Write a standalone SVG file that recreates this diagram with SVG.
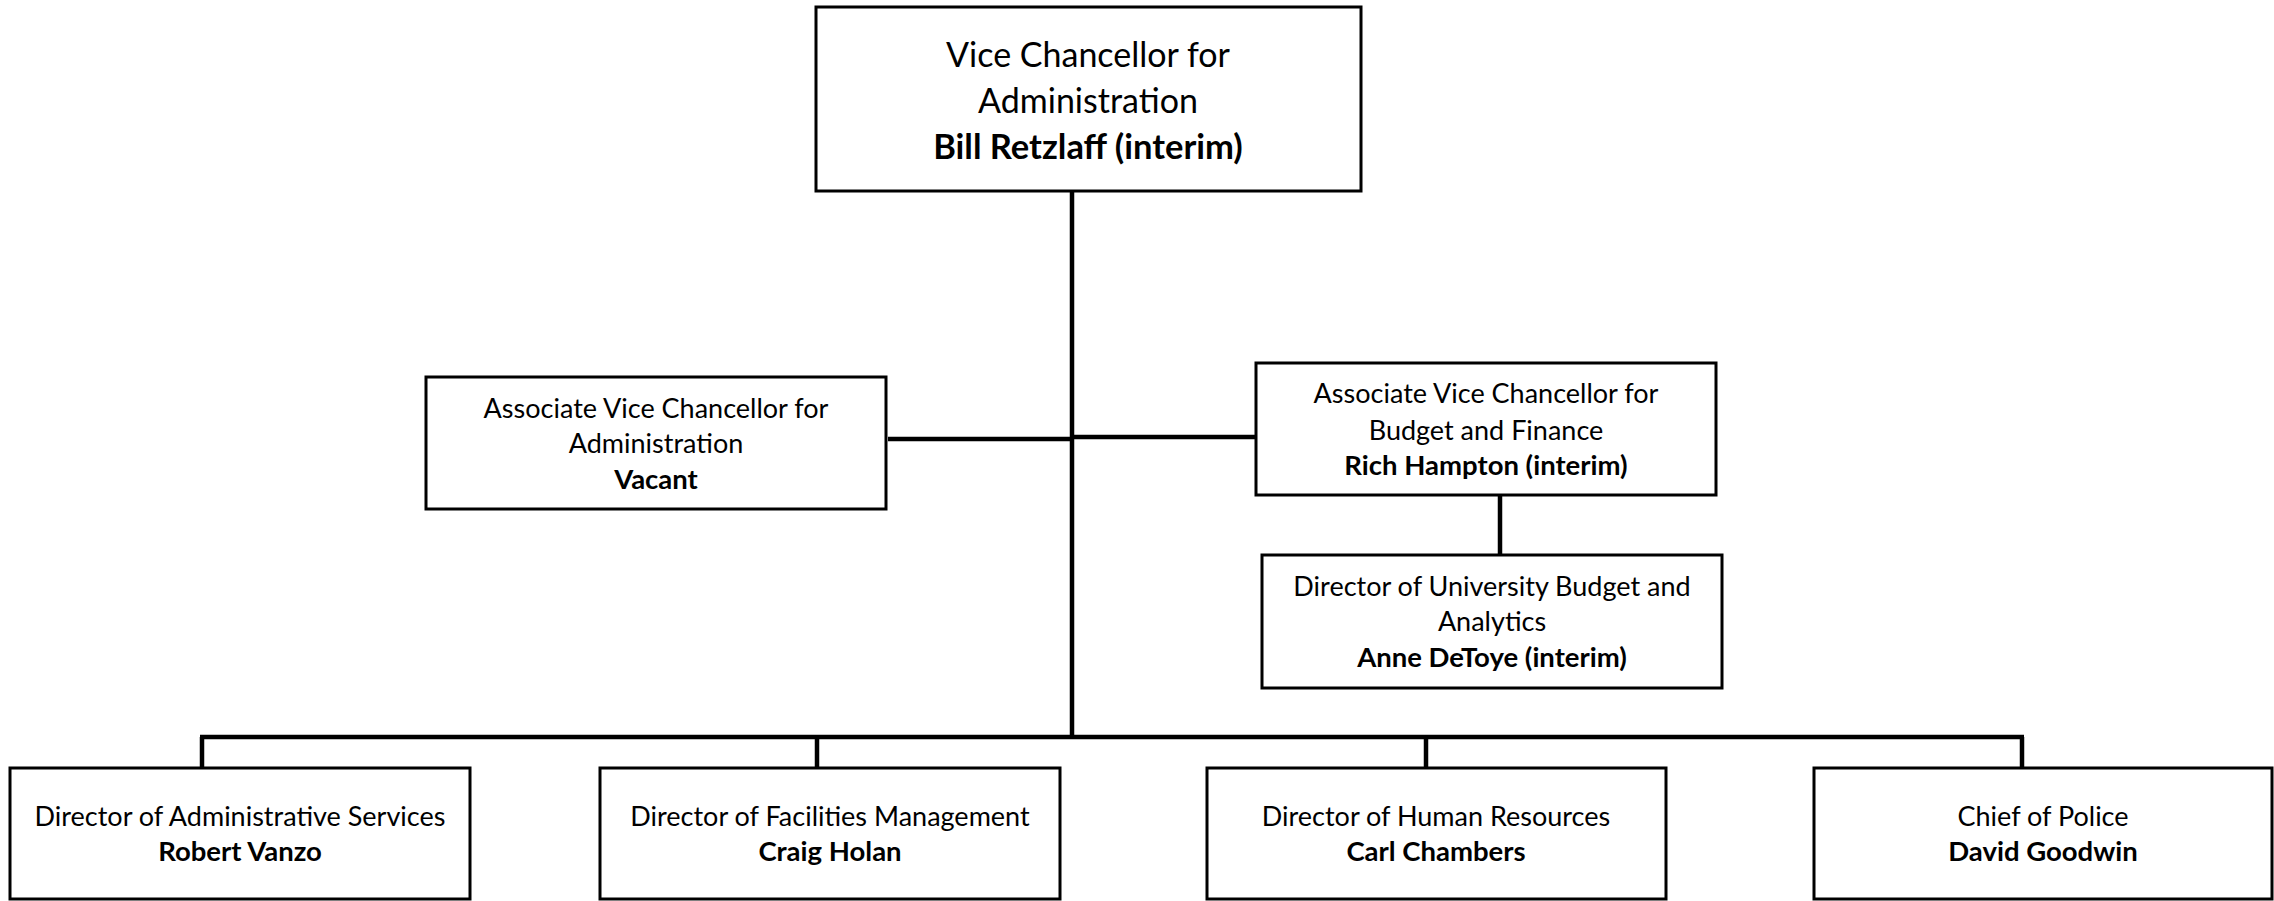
<svg xmlns="http://www.w3.org/2000/svg" width="2274" height="901" viewBox="0 0 2274 901">
<style>
.box{fill:#fff;stroke:#000;stroke-width:3}
.ln{stroke:#000;stroke-width:4.5;fill:none}
text{font-family:Lato,"Liberation Sans",sans-serif;fill:#000;text-anchor:middle}
.big{font-size:34px}
.sm{font-size:27px}
.b{font-weight:bold}
.sm.b{font-size:27.5px}
.big.b{font-size:34.5px}
</style>
<rect width="2274" height="901" fill="#fff"/>
<g id="connectors">
<line class="ln" x1="1072" y1="192" x2="1072" y2="737"/>
<line class="ln" x1="888" y1="439" x2="1072" y2="439"/>
<line class="ln" x1="1072" y1="437" x2="1256" y2="437"/>
<line class="ln" x1="1500" y1="495" x2="1500" y2="555"/>
<line class="ln" x1="200" y1="737" x2="2024" y2="737"/>
<line class="ln" x1="202" y1="737" x2="202" y2="768"/>
<line class="ln" x1="817" y1="737" x2="817" y2="768"/>
<line class="ln" x1="1426" y1="737" x2="1426" y2="768"/>
<line class="ln" x1="2022" y1="737" x2="2022" y2="768"/>
</g>
<g id="vc">
<rect class="box" x="816" y="7" width="545" height="184"/>
<text class="big" x="1088" y="67">Vice Chancellor for</text>
<text class="big" x="1088" y="113">Administration</text>
<text class="big b" x="1088" y="159">Bill Retzlaff (interim)</text>
</g>
<g id="avc-admin">
<rect class="box" x="426" y="377" width="460" height="132"/>
<text class="sm" x="656" y="418">Associate Vice Chancellor for</text>
<text class="sm" x="656" y="453">Administration</text>
<text class="sm b" x="656" y="489">Vacant</text>
</g>
<g id="avc-budget">
<rect class="box" x="1256" y="363" width="460" height="132"/>
<text class="sm" x="1486" y="403">Associate Vice Chancellor for</text>
<text class="sm" x="1486" y="440">Budget and Finance</text>
<text class="sm b" x="1486" y="475">Rich Hampton (interim)</text>
</g>
<g id="dir-budget">
<rect class="box" x="1262" y="555" width="460" height="133"/>
<text class="sm" x="1492" y="596">Director of University Budget and</text>
<text class="sm" x="1492" y="631">Analytics</text>
<text class="sm b" x="1492" y="667">Anne DeToye (interim)</text>
</g>
<g id="dir-admin">
<rect class="box" x="10" y="768" width="460" height="131"/>
<text class="sm" x="240" y="826">Director of Administrative Services</text>
<text class="sm b" x="240" y="861">Robert Vanzo</text>
</g>
<g id="dir-facilities">
<rect class="box" x="600" y="768" width="460" height="131"/>
<text class="sm" x="830" y="826">Director of Facilities Management</text>
<text class="sm b" x="830" y="861">Craig Holan</text>
</g>
<g id="dir-hr">
<rect class="box" x="1207" y="768" width="459" height="131"/>
<text class="sm" x="1436" y="826">Director of Human Resources</text>
<text class="sm b" x="1436" y="861">Carl Chambers</text>
</g>
<g id="police">
<rect class="box" x="1814" y="768" width="458" height="131"/>
<text class="sm" x="2043" y="826">Chief of Police</text>
<text class="sm b" x="2043" y="861">David Goodwin</text>
</g>
</svg>
